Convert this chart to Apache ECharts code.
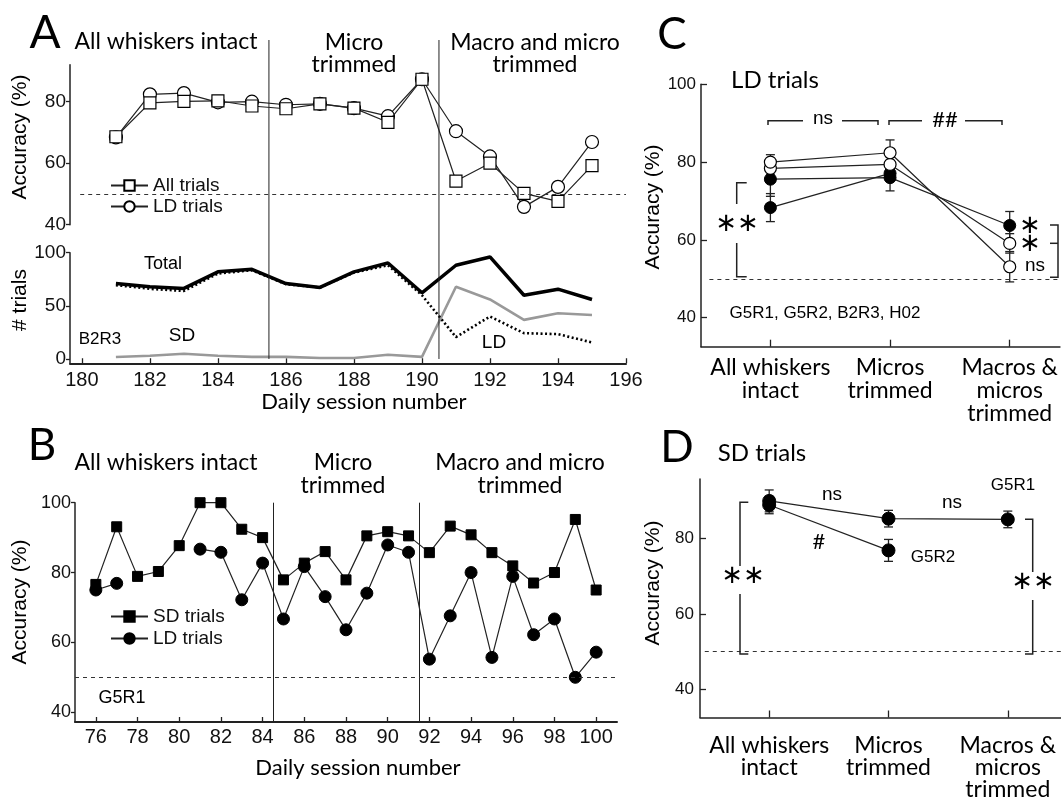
<!DOCTYPE html>
<html><head><meta charset="utf-8">
<script src="https://cdn.jsdelivr.net/npm/echarts@6/dist/echarts.min.js"></script>
<style>html,body{margin:0;padding:0;background:#fff}#c{width:1061px;height:801px}</style>
</head><body><div id="c"></div>
<script>
// ---------- Panel A ----------
const sessionsA = [181,182,183,184,185,186,187,188,189,190,191,192,193,194,195];
const accAllTrialsA = [68.6,79.6,80.1,80.3,78.6,77.7,79.3,77.9,73.3,87.3,54.2,60.0,50.2,47.6,59.2];
const accLDTrialsA  = [68.4,82.4,82.8,79.8,80.0,79.0,79.3,77.9,75.3,87.3,70.4,62.2,45.8,52.3,66.9];
const totalTrialsA  = [71,68,66.4,82,84.4,71,67.3,82,90.3,62.3,88.2,96,60,65.7,56];
const ldTrialsCountA = [69.5,66,64,80.4,83.5,70.4,67.3,81.3,88.2,60,20.6,40,24.3,23.4,15.6];
const sdTrialsCountA = [1.9,3,5,3,2,2,1,1,4,2,68,56,36.8,43,41.4];
const ticksA = [180,182,184,186,188,190,192,194,196];
const phaseBoundsA = [185.5,190.5];

// ---------- Panel B ----------
const sessionsB = [76,77,78,79,80,81,82,83,84,85,86,87,88,89,90,91,92,93,94,95,96,97,98,99,100];
const accSDB = [76.6,93.1,78.9,80.3,87.7,100,100,92.4,90,77.9,82.7,86,77.9,90.5,91.7,90.5,85.7,93.3,90.8,85.7,81.9,77,80,95.2,75];
const accLDB = [75.0,76.9,null,null,null,86.7,85.8,72.2,82.7,66.7,81.7,73.1,63.6,74.1,87.9,85.8,55.2,67.6,80,55.7,78.9,62.2,66.7,50,57.2];
const ticksB = [76,78,80,82,84,86,88,90,92,94,96,98,100];
const phaseBoundsB = [84.5,91.5];

// ---------- Panels C & D ----------
const conditions = ['All whiskers\nintact','Micros\ntrimmed','Macros &\nmicros\ntrimmed'];
const condPos = [1,2,3];
// C: LD trials, four mice (mean, s.e.m.)
const ldC_m1 = [75.6,76.0,63.7], ldC_m1Err = [4.4,3.4,3.6];
const ldC_m2 = [68.3,77.1,null], ldC_m2Err = [3.6,1.0,null];
const ldC_m3 = [78.4,79.4,59.1], ldC_m3Err = [1.5,1.0,2.5];
const ldC_m4 = [80.0,82.4,53.1], ldC_m4Err = [1.9,3.3,3.9];
// D: SD trials
const sdD_G5R1 = [89.9,85.2,85.0], sdD_G5R1Err = [2.9,2.2,2.2];
const sdD_G5R2 = [88.8,76.8,null], sdD_G5R2Err = [2.3,2.9,null];
const ticksAccCD = [40,60,80,100];
const ticksAccD = [40,60,80];

// ---------- helpers ----------
const zip = (xs, ys) => xs.map((x,i) => [x, ys[i]==null ? '-' : ys[i]]);
const errData = (means, errs) => condPos.map((c,i)=> means[i]==null?null:[c, means[i]-errs[i], means[i]+errs[i]]).filter(d=>d);
const ARIAL = 'Liberation Sans', CAL = 'Lato';
const AX = '#222';

function yAx(grid, min, max, ticks, opts){
  return Object.assign({type:'value', gridIndex:grid, min, max,
    axisLine:{show:true, lineStyle:{color:AX, width:1.5}},
    axisTick:{show:true, inside:false, length:4, customValues:ticks, lineStyle:{color:AX, width:1.3}},
    axisLabel:{customValues:ticks, fontFamily:ARIAL, fontSize:19, color:'#111', margin:4},
    splitLine:{show:false}}, opts||{});
}
function xAx(grid, min, max, ticks, opts){
  return Object.assign({type:'value', gridIndex:grid, min, max,
    axisLine:{show:true, onZero:false, lineStyle:{color:AX, width:2}},
    axisTick:{show:true, inside:true, length:5, customValues:ticks, lineStyle:{color:AX, width:1.3}},
    axisLabel:{customValues:ticks, fontFamily:ARIAL, fontSize:20, color:'#111', margin:7},
    splitLine:{show:false}}, opts||{});
}
const errRender = function(params, api){
  const x = api.value(0);
  const a = api.coord([x, api.value(1)]), b = api.coord([x, api.value(2)]);
  const w = 4.5, st = {stroke:'#222', lineWidth:1.3};
  return {type:'group', children:[
    {type:'line', shape:{x1:a[0],y1:a[1],x2:b[0],y2:b[1]}, style:st},
    {type:'line', shape:{x1:a[0]-w,y1:a[1],x2:a[0]+w,y2:a[1]}, style:st},
    {type:'line', shape:{x1:b[0]-w,y1:b[1],x2:b[0]+w,y2:b[1]}, style:st}]};
};
const dashed50 = (x1, x2) => ({silent:true, symbol:'none', label:{show:false},
  lineStyle:{type:[4,4], color:'#333', width:1}, data:[[{coord:[x1,50]},{coord:[x2,50]}]]});

const openSym = {color:'#fff', borderColor:'#000', borderWidth:1.2};
const fillSym = {color:'#000', borderColor:'#000', borderWidth:1};
const ln = {color:'#222', width:1.2};

function cdLine(name, xi, yi, vals, filled){
  return {name, type:'line', xAxisIndex:xi, yAxisIndex:yi, data:zip(condPos, vals),
    symbol:'circle', symbolSize:12, itemStyle: filled?fillSym:openSym, lineStyle:ln, z:3};
}

const option = {
  animation:false,
  backgroundColor:'#fff',
  grid:[
    {left:70, width:556, top:64.8, height:159.9},
    {left:70, width:556, top:252.7, height:110.55},
    {left:75, width:542, top:502.7, height:219.3},
    {left:701, width:360, top:84.3, height:262.4},
    {left:700, width:361, top:479, height:243}
  ],
  xAxis:[
    {type:'value', gridIndex:0, min:179.65, max:196, show:false},
    xAx(1, 179.65, 196, ticksA),
    xAx(2, 75, 101, ticksB, {axisLabel:{customValues:ticksB, fontFamily:ARIAL, fontSize:20, color:'#111', margin:5}}),
    xAx(3, 0.42, 3.42, condPos, {axisLine:{show:true,onZero:false,lineStyle:{color:AX,width:1.5}},
      axisTick:{show:true, inside:true, length:7, customValues:condPos, lineStyle:{color:AX,width:1.3}},
      axisLabel:{customValues:condPos, formatter:v=>conditions[Math.round(v)-1], fontFamily:CAL, fontSize:23, lineHeight:23, color:'#000', margin:9}}),
    xAx(4, 0.42, 3.446, condPos, {axisLine:{show:true,onZero:false,lineStyle:{color:AX,width:1.5}},
      axisTick:{show:true, inside:true, length:7, customValues:condPos, lineStyle:{color:AX,width:1.3}},
      axisLabel:{customValues:condPos, formatter:v=>conditions[Math.round(v)-1], fontFamily:CAL, fontSize:23, lineHeight:22, color:'#000', margin:17}})
  ],
  yAxis:[
    yAx(0, 40, 92, [40,60,80]),
    yAx(1, -4, 100, [0,50,100]),
    yAx(2, 37.2, 100, [40,60,80,100], {axisLabel:{customValues:[40,60,80,100], fontFamily:ARIAL, fontSize:18, color:'#111', margin:4}}),
    yAx(3, 32.54, 100, ticksAccCD, {axisTick:{show:true, inside:true, length:6, customValues:ticksAccCD, lineStyle:{color:AX,width:1.3}},
      axisLabel:{customValues:ticksAccCD, fontFamily:ARIAL, fontSize:17, color:'#111', margin:5}}),
    yAx(4, 32.55, 95.7, ticksAccD, {axisTick:{show:true, inside:true, length:6, customValues:ticksAccD, lineStyle:{color:AX,width:1.3}},
      axisLabel:{customValues:ticksAccD, fontFamily:ARIAL, fontSize:17, color:'#111', margin:6}})
  ],
  legend:[
    {data:['All trials','LD trials'], orient:'vertical', left:110, top:175, itemWidth:37, itemHeight:13, itemGap:2,
     textStyle:{fontFamily:ARIAL, fontSize:19, color:'#111'}, backgroundColor:'#fff', padding:[1,4,1,0], selectedMode:false},
    {data:['SD trials','LD trials (B)'], formatter:n=>n.replace(' (B)',''), orient:'vertical', left:110, top:606, itemWidth:37, itemHeight:13, itemGap:3,
     textStyle:{fontFamily:ARIAL, fontSize:19, color:'#111'}, padding:[1,4,1,0], selectedMode:false}
  ],
  series:[
    // A top
    {name:'LD trials', type:'line', xAxisIndex:0, yAxisIndex:0, data:zip(sessionsA, accLDTrialsA),
     symbol:'circle', symbolSize:13, itemStyle:openSym, lineStyle:ln, z:2},
    {name:'All trials', type:'line', xAxisIndex:0, yAxisIndex:0, data:zip(sessionsA, accAllTrialsA),
     symbol:'rect', symbolSize:12, itemStyle:openSym, lineStyle:ln, z:3, markLine:dashed50(179.95,196)},
    // A bottom
    {name:'Total', type:'line', xAxisIndex:1, yAxisIndex:1, data:zip(sessionsA, totalTrialsA), symbol:'none',
     lineStyle:{color:'#000', width:3.5}, z:2},
    {name:'LD', type:'line', xAxisIndex:1, yAxisIndex:1, data:zip(sessionsA, ldTrialsCountA), symbol:'none',
     lineStyle:{color:'#000', width:2.6, type:[2,2.5]}, z:3},
    {name:'SD', type:'line', xAxisIndex:1, yAxisIndex:1, data:zip(sessionsA, sdTrialsCountA), symbol:'none',
     lineStyle:{color:'#999', width:2.6}, z:2},
    // B
    {name:'SD trials', type:'line', xAxisIndex:2, yAxisIndex:2, data:zip(sessionsB, accSDB),
     symbol:'rect', symbolSize:10, itemStyle:fillSym, lineStyle:ln, z:3,
     markLine:{silent:true, symbol:'none', label:{show:false}, lineStyle:{type:'solid', color:'#222', width:1},
       data:phaseBoundsB.map(v=>({xAxis:v}))}},
    {name:'LD trials (B)', type:'line', xAxisIndex:2, yAxisIndex:2, data:zip(sessionsB, accLDB), connectNulls:false,
     symbol:'circle', symbolSize:12, itemStyle:fillSym, lineStyle:ln, z:3, markLine:dashed50(75,101)},
    // C
    {name:'C err', type:'custom', xAxisIndex:3, yAxisIndex:3, renderItem:errRender, encode:{x:0,y:[1,2]}, z:1,
     data:[...errData(ldC_m1, ldC_m1Err), ...errData(ldC_m2, ldC_m2Err), ...errData(ldC_m3, ldC_m3Err), ...errData(ldC_m4, ldC_m4Err)]},
    Object.assign(cdLine('LD mouse 1', 3, 3, ldC_m1, true), {markLine:dashed50(0.49,3.42)}),
    cdLine('LD mouse 2', 3, 3, ldC_m2, true),
    cdLine('LD mouse 3', 3, 3, ldC_m3, false),
    cdLine('LD mouse 4', 3, 3, ldC_m4, false),
    // D
    {name:'D err', type:'custom', xAxisIndex:4, yAxisIndex:4, renderItem:errRender, encode:{x:0,y:[1,2]}, z:1,
     data:[...errData(sdD_G5R1, sdD_G5R1Err), ...errData(sdD_G5R2, sdD_G5R2Err)]},
    Object.assign(cdLine('G5R1', 4, 4, sdD_G5R1, true), {symbolSize:13, markLine:dashed50(0.46,3.446)}),
    Object.assign(cdLine('G5R2', 4, 4, sdD_G5R2, true), {symbolSize:13})
  ]
};

const chart = echarts.init(document.getElementById('c'), null, {renderer:'canvas'});
chart.setOption(option);

// ---------- annotations ----------
const g = [];
function T(text, x, y, size, font, extra){
  g.push(Object.assign({type:'text', x, y, z:10, style:Object.assign({text, fontSize:size, fontFamily:font, fill:'#000', align:'center', verticalAlign:'middle'}, (extra&&extra.style)||{})}, extra&&extra.rotation?{rotation:extra.rotation}:{}));
}
function P(points, w){ g.push({type:'polyline', z:10, shape:{points}, style:{stroke:'#222', lineWidth:w||1.5, fill:null}}); }
const R90 = {rotation:Math.PI/2};

// panel letters
T('A', 45, 33, 46, CAL); T('B', 42, 446, 44, CAL); T('C', 672, 35, 44, CAL); T('D', 677, 448, 44, CAL);
// A headings
T('All whiskers intact', 166, 42, 23, CAL); T('Micro', 354, 43, 23, CAL); T('trimmed', 354, 65, 23, CAL);
T('Macro and micro', 535, 43, 23, CAL); T('trimmed', 535, 65, 23, CAL);
T('Daily session number', 364, 402, 22, CAL);
// B headings
T('All whiskers intact', 166, 463, 23, CAL); T('Micro', 343, 463, 23, CAL); T('trimmed', 343, 486, 23, CAL);
T('Macro and micro', 520, 463, 23, CAL); T('trimmed', 520, 486, 23, CAL);
T('Daily session number', 358, 768, 22, CAL);
// axis names
T('Accuracy (%)', 20, 137, 21, ARIAL, R90); T('# trials', 20, 300, 21, ARIAL, R90);
T('Accuracy (%)', 20, 602, 21, ARIAL, R90); T('Accuracy (%)', 653, 207, 21, ARIAL, R90);
T('Accuracy (%)', 653, 583, 21, ARIAL, R90);
// A bottom labels
T('Total', 163, 264, 18, ARIAL); T('SD', 182, 336, 19, ARIAL); T('B2R3', 100, 339, 17, ARIAL); T('LD', 494, 343, 19, ARIAL);
// B
T('G5R1', 122, 698, 18, ARIAL);
// C
T('LD trials', 775, 80, 24, CAL);
T('G5R1, G5R2, B2R3, H02', 825, 313, 17, ARIAL);
T('ns', 823, 119, 19, ARIAL); T('##', 945, 120, 22, CAL);
P([[768,125],[768,120.7],[803,120.7]]); P([[842,120.7],[878,120.7],[878,125]]);
P([[889,125],[889,120.7],[922,120.7]]); P([[965,120.7],[1002,120.7],[1002,125]]);
P([[746.7,182.7],[736.7,182.7],[736.7,204]]); P([[736.7,243],[736.7,276.7],[746.7,276.7]]);
T('\u2217\u2217', 737, 224, 26, 'DejaVu Sans');
P([[1050,225],[1058,225],[1058,277.3],[1050,277.3]]); P([[1050,243.3],[1058,243.3]]);
T('\u2217', 1030, 226, 26, 'DejaVu Sans'); T('\u2217', 1030, 244, 26, 'DejaVu Sans'); T('ns', 1035, 266, 19, ARIAL);
// D
T('SD trials', 762, 453, 24, CAL);
T('ns', 832, 495, 19, ARIAL); T('ns', 952, 503, 19, ARIAL); T('G5R1', 1013, 485, 17, ARIAL);
T('#', 819, 542, 22, CAL); T('G5R2', 933, 557, 17, ARIAL);
P([[748.3,502.3],[740,502.3],[740,566]]); P([[740,594],[740,654],[748.3,654]]);
T('\u2217\u2217', 743, 576, 26, 'DejaVu Sans');
P([[1025,519.3],[1032.7,519.3],[1032.7,572]]); P([[1032.7,600],[1032.7,654],[1025,654]]);
T('\u2217\u2217', 1033, 582, 26, 'DejaVu Sans');
// A phase boundaries spanning both A plots (positions from the axis scale)
phaseBoundsA.forEach(v => {
  const bot = chart.convertToPixel({gridIndex:1}, [v, 0]);
  g.push({type:'line', z:5, shape:{x1:bot[0], y1:40, x2:bot[0], y2:bot[1]}, style:{stroke:'#222', lineWidth:1}});
});
chart.setOption({graphic:{elements:g}});
</script></body></html>
